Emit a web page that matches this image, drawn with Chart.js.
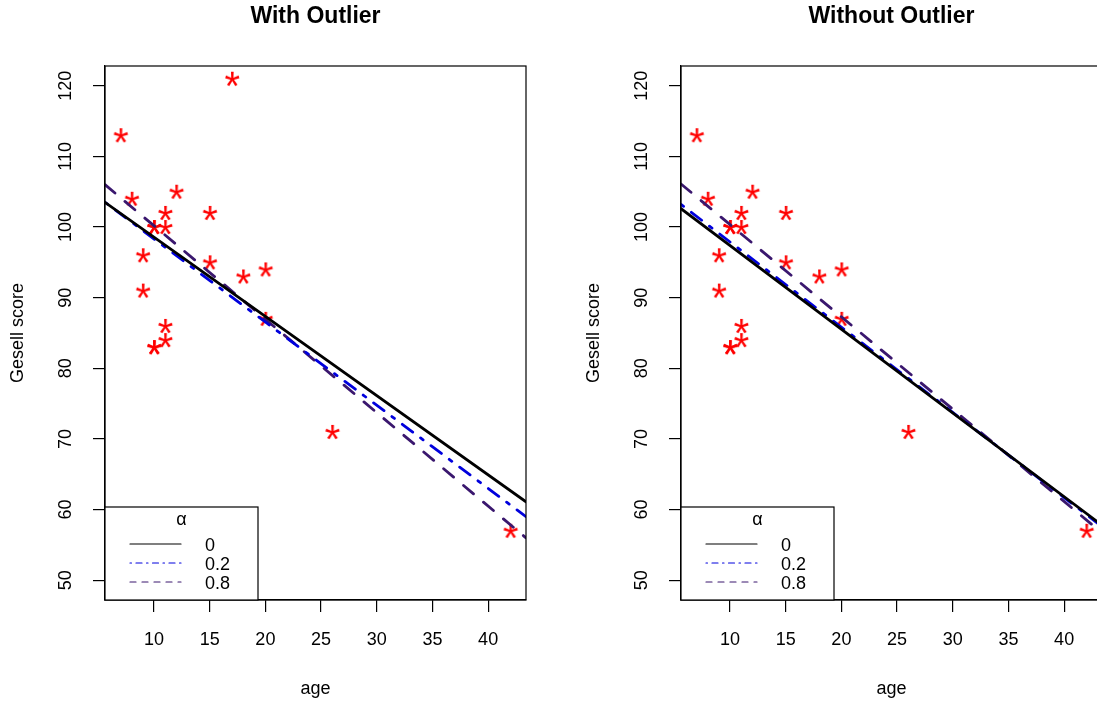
<!DOCTYPE html>
<html>
<head>
<meta charset="utf-8">
<script src="https://cdn.jsdelivr.net/npm/chart.js@4"></script>
<style>
  html, body { margin: 0; padding: 0; background: #fff; overflow: hidden; width: 1097px; height: 706px; }
  #wrap { position: relative; width: 1130px; height: 706px; }
  canvas { position: absolute; top: 0; }
  #c1 { left: 0; }
  #c2 { left: 576px; }
</style>
</head>
<body>
<div id="wrap">
  <canvas id="c1" width="548" height="706"></canvas>
  <canvas id="c2" width="548" height="706"></canvas>
</div>
<script>
// ---- data (Gesell adaptive score vs age at first word) ----
const ageAll   = [15, 26, 10, 9, 15, 20, 18, 11, 8, 20, 7, 9, 10, 11, 11, 10, 12, 42, 17, 11, 10];
const scoreAll = [95, 71, 83, 91, 102, 87, 93, 100, 104, 94, 113, 96, 83, 84, 102, 100, 105, 57, 121, 86, 100];
// without the outlier (age 17, score 121)
const ageNoOut   = [15, 26, 10, 9, 15, 20, 18, 11, 8, 20, 7, 9, 10, 11, 11, 10, 12, 42, 11, 10];
const scoreNoOut = [95, 71, 83, 91, 102, 87, 93, 100, 104, 94, 113, 96, 83, 84, 102, 100, 105, 57, 86, 100];

// fitted lines, evaluated at the ends of the x range
const lineX = [5.6, 43.4];
const fitWith_a0   = [103.5, 61.1];
const fitWith_a02  = [103.5, 59.0];
const fitWith_a08  = [106.0, 56.0];
const fitWithout_a0  = [102.6, 57.8];
const fitWithout_a02 = [103.2, 57.6];
const fitWithout_a08 = [106.1, 56.7];

const alphaLabels = ['0', '0.2', '0.8'];
const xTicks = [10, 15, 20, 25, 30, 35, 40];
const yTicks = [50, 60, 70, 80, 90, 100, 110, 120];
const titles = ['With Outlier', 'Without Outlier'];

// ---- styles ----
const FONT = '"Liberation Sans", Arial, Helvetica, sans-serif';
Chart.defaults.font.family = FONT;
Chart.defaults.color = '#000';
const styles = [
  { color: '#000000', dash: [],                 legDash: [] },
  { color: '#0000DD', dash: [3.2, 9.8, 13, 9.8], legDash: [1.5, 4.5, 6, 4.5] },
  { color: '#3A176E', dash: [13, 13],           legDash: [6, 6] }
];

function makeStar(color, px) {
  const S = 34;
  const c = document.createElement('canvas');
  c.width = S; c.height = S;
  const g = c.getContext('2d');
  g.font = px + 'px ' + FONT;
  g.fillStyle = color;
  g.textAlign = 'left';
  g.textBaseline = 'alphabetic';
  const m = g.measureText('*');
  const w = m.actualBoundingBoxRight + m.actualBoundingBoxLeft;
  const h = m.actualBoundingBoxAscent + m.actualBoundingBoxDescent;
  g.fillText('*', (S - w) / 2 + m.actualBoundingBoxLeft, (S - h) / 2 + m.actualBoundingBoxAscent);
  return c;
}
const star = makeStar('#FF0000', 40);

const boxLegendPlugin = {
  id: 'boxLegend',
  afterDraw(chart, args, opts) {
    const { ctx, chartArea: a } = chart;
    ctx.save();
    // plot box
    ctx.strokeStyle = '#000';
    ctx.lineWidth = 1.2;
    ctx.setLineDash([]);
    ctx.strokeRect(a.left, a.top, a.right - a.left, a.bottom - a.top);
    // title
    ctx.fillStyle = '#000';
    ctx.font = 'bold 23px ' + FONT;
    ctx.textAlign = 'center';
    ctx.textBaseline = 'middle';
    ctx.fillText(opts.title, (a.left + a.right) / 2, 17);
    // legend box
    const lx0 = a.left, lx1 = a.left + 153, ly0 = a.bottom - 93, ly1 = a.bottom;
    ctx.fillStyle = '#fff';
    ctx.fillRect(lx0, ly0, lx1 - lx0, ly1 - ly0);
    ctx.strokeRect(lx0, ly0, lx1 - lx0, ly1 - ly0);
    ctx.fillStyle = '#000';
    ctx.font = '18px ' + FONT;
    ctx.textAlign = 'center';
    ctx.fillText('\u03B1', (lx0 + lx1) / 2, ly0 + 13);
    const rows = [ly0 + 37, ly0 + 56, ly0 + 75];
    alphaLabels.forEach((lab, i) => {
      ctx.strokeStyle = styles[i].color;
      ctx.lineWidth = 1.2;
      ctx.lineCap = 'round';
      ctx.setLineDash(styles[i].legDash);
      ctx.beginPath();
      ctx.moveTo(a.left + 25, rows[i]);
      ctx.lineTo(a.left + 76, rows[i]);
      ctx.stroke();
      ctx.setLineDash([]);
      ctx.textAlign = 'left';
      ctx.fillStyle = '#000';
      ctx.fillText(lab, a.left + 100, rows[i] + 2);
    });
    ctx.restore();
  }
};

function makeChart(id, title, ages, scores, fits) {
  const pts = ages.map((a, i) => ({ x: a, y: scores[i] }));
  const lineSets = fits.map((f, i) => ({
    type: 'line',
    data: lineX.map((x, j) => ({ x: x, y: f[j] })),
    borderColor: styles[i].color,
    borderWidth: 2.8,
    borderDash: styles[i].dash,
    borderCapStyle: 'round',
    pointRadius: 0,
    fill: false,
    tension: 0,
    order: 1
  }));
  return new Chart(document.getElementById(id), {
    type: 'scatter',
    data: {
      datasets: [
        ...lineSets,
        {
          type: 'scatter',
          data: pts,
          pointStyle: star,
          pointRadius: 7,
          backgroundColor: '#FF0000',
          borderColor: '#FF0000',
          order: 5
        }
      ]
    },
    options: {
      responsive: false,
      animation: false,
      devicePixelRatio: 1,
      layout: { padding: { top: 66, right: 22, left: 0, bottom: 0 } },
      plugins: {
        legend: { display: false },
        tooltip: { enabled: false },
        boxLegend: { title: title }
      },
      scales: {
        x: {
          type: 'linear',
          min: lineX[0],
          max: lineX[1],
          afterBuildTicks: s => { s.ticks = xTicks.map(v => ({ value: v })); },
          afterFit: s => { s.height = 106; },
          grid: { drawOnChartArea: false, drawTicks: true, tickLength: 12, color: '#000', lineWidth: 1.2 },
          border: { display: true, color: '#000', width: 1.2 },
          ticks: { font: { size: 18 }, color: '#000', padding: 17, maxRotation: 0, minRotation: 0 },
          title: { display: true, text: 'age', font: { size: 18 }, color: '#000', padding: { top: 0, bottom: 6 } }
        },
        y: {
          type: 'linear',
          min: 47.2,
          max: 122.8,
          afterBuildTicks: s => { s.ticks = yTicks.map(v => ({ value: v })); },
          afterFit: s => { s.width = 105; },
          grid: { drawOnChartArea: false, drawTicks: true, tickLength: 12, color: '#000', lineWidth: 1.2 },
          border: { display: true, color: '#000', width: 1.2 },
          ticks: { font: { size: 18 }, color: '#000', padding: 11.5, minRotation: 90, maxRotation: 90, crossAlign: 'center' },
          title: { display: true, text: 'Gesell score', font: { size: 18 }, color: '#000', padding: { top: 7, bottom: 0 } }
        }
      }
    },
    plugins: [boxLegendPlugin]
  });
}

makeChart('c1', titles[0], ageAll, scoreAll, [fitWith_a0, fitWith_a02, fitWith_a08]);
makeChart('c2', titles[1], ageNoOut, scoreNoOut, [fitWithout_a0, fitWithout_a02, fitWithout_a08]);
</script>
</body>
</html>
